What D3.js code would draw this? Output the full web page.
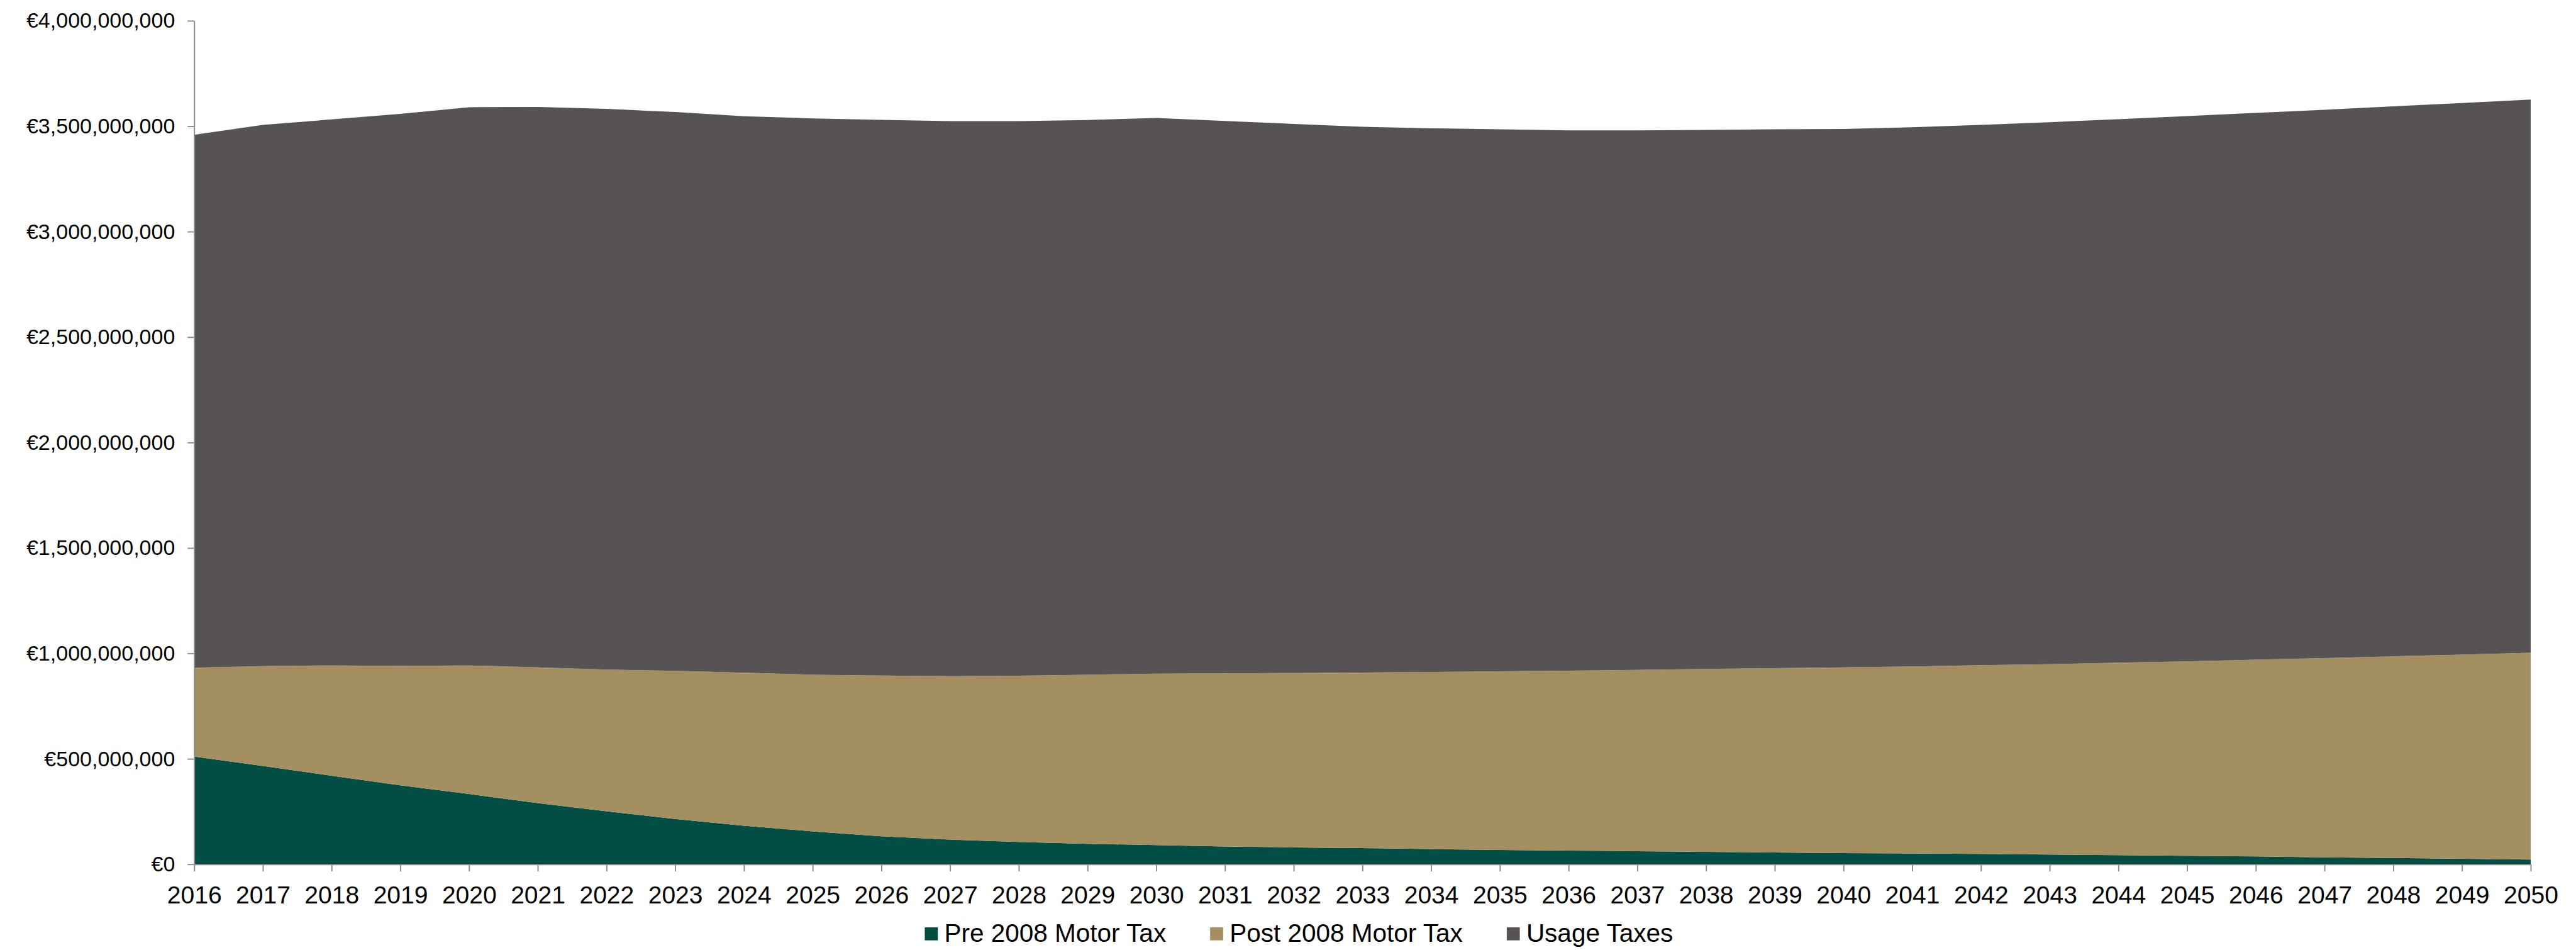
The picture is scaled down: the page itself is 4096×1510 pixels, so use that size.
<!DOCTYPE html>
<html>
<head>
<meta charset="utf-8">
<script src="https://cdn.jsdelivr.net/npm/d3@7"></script>
<style>
  html, body { margin: 0; padding: 0; background: #ffffff; overflow: hidden; }
  svg { display: block; }
</style>
</head>
<body>
<svg id="chart" width="4096" height="1510"></svg>
<script>
// ---- Data (values in € millions) ----
const years = [2016, 2017, 2018, 2019, 2020, 2021, 2022, 2023, 2024, 2025,
               2026, 2027, 2028, 2029, 2030, 2031, 2032, 2033, 2034, 2035,
               2036, 2037, 2038, 2039, 2040, 2041, 2042, 2043, 2044, 2045,
               2046, 2047, 2048, 2049, 2050];

const preMotorTax = [511, 466, 420, 374, 333, 290, 251, 215, 183, 156,
                     133, 117, 106, 97, 91, 84, 80, 77, 72, 68,
                     65, 62, 59, 56, 53, 51, 49, 46, 43, 40,
                     37, 33, 30, 26, 22];

const postMotorTax = [421, 474, 523, 567, 610, 644, 672, 702, 725, 743,
                      762, 775, 788, 802, 813, 821, 827, 832, 840, 847,
                      853, 860, 867, 874, 881, 887, 895, 903, 913, 922,
                      933, 945, 956, 968, 981];

const usageTaxes = [2527, 2566, 2589, 2617, 2647, 2657, 2659, 2650, 2639, 2638,
                    2635, 2632, 2630, 2630, 2635, 2620, 2604, 2588, 2578, 2570,
                    2562, 2558, 2556, 2555, 2553, 2557, 2562, 2570, 2577, 2586,
                    2593, 2600, 2608, 2616, 2623];

const seriesKeys = ["pre", "post", "usage"];
const seriesNames = ["Pre 2008 Motor Tax", "Post 2008 Motor Tax", "Usage Taxes"];
const seriesColors = ["#034e44", "#a48f61", "#575254"];

const yTickValues = [0, 500, 1000, 1500, 2000, 2500, 3000, 3500, 4000];

// ---- Layout ----
const S = 0.942;
const FONT = "'Liberation Sans', Arial, Helvetica, sans-serif";
const AXIS_COLOR = "#898989";

const svg = d3.select("#chart");

const x = d3.scalePoint()
  .domain(years)
  .range([327.7 * S, 4271.7 * S]);

const y = d3.scaleLinear()
  .domain([0, 4000])
  .range([1458.3 * S, 35 * S]);

const table = years.map((yr, i) => ({
  year: yr,
  pre: preMotorTax[i],
  post: postMotorTax[i],
  usage: usageTaxes[i]
}));

const layers = d3.stack().keys(seriesKeys)(table);

const area = d3.area()
  .curve(d3.curveLinear)
  .x(d => x(d.data.year))
  .y0(d => y(d[0]))
  .y1(d => y(d[1]));

svg.append("g")
  .selectAll("path")
  .data(layers)
  .join("path")
  .attr("fill", (d, i) => seriesColors[i])
  .attr("d", area);

// ---- Y axis ----
const fmt = d3.format(",");
const yAxis = d3.axisLeft(y)
  .tickValues(yTickValues)
  .tickSize(10.4)
  .tickSizeOuter(0)
  .tickPadding(20)
  .tickFormat(d => "€" + fmt(d * 1e6));

const gy = svg.append("g")
  .attr("transform", `translate(${x(years[0])},0)`)
  .call(yAxis);
gy.select(".domain").attr("stroke", AXIS_COLOR).attr("stroke-width", 1.9);
gy.selectAll(".tick line").attr("stroke", AXIS_COLOR).attr("stroke-width", 1.9);
gy.selectAll(".tick text")
  .attr("fill", "#000")
  .style("font-family", FONT)
  .style("font-size", "34px");

// ---- X axis ----
const xAxis = d3.axisBottom(x)
  .tickSize(11.3)
  .tickSizeOuter(0)
  .tickPadding(23.3)
  .tickFormat(d => String(d));

const gx = svg.append("g")
  .attr("transform", `translate(0,${y(0)})`)
  .call(xAxis);
gx.select(".domain").attr("stroke", AXIS_COLOR).attr("stroke-width", 1.9);
gx.selectAll(".tick line").attr("stroke", AXIS_COLOR).attr("stroke-width", 1.9);
gx.selectAll(".tick text")
  .attr("fill", "#000")
  .style("font-family", FONT)
  .style("font-size", "39px");

// ---- Legend ----
const legend = svg.append("g");
const swatch = 20.7;
const baseline = 1497;
let lx = 1561 * S;
seriesNames.forEach((name, i) => {
  const g = legend.append("g");
  g.append("rect")
    .attr("x", lx)
    .attr("y", baseline - 23)
    .attr("width", swatch)
    .attr("height", swatch)
    .attr("fill", seriesColors[i]);
  const t = g.append("text")
    .attr("x", lx + 31)
    .attr("y", baseline)
    .attr("fill", "#000")
    .style("font-family", FONT)
    .style("font-size", "40.5px")
    .text(name);
  const w = t.node().getComputedTextLength();
  lx = lx + 31 + w + 70;
});
</script>
</body>
</html>
